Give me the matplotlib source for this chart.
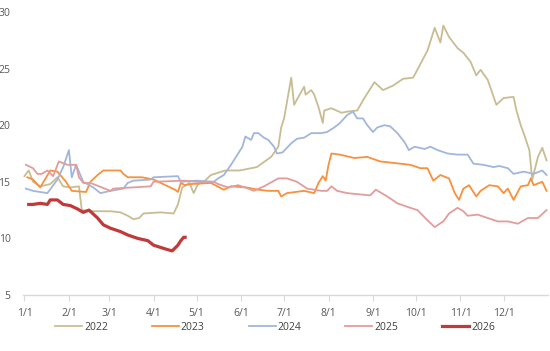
import matplotlib
matplotlib.use("Agg")
import matplotlib.pyplot as plt

plt.rcParams['font.family'] = ['Open Sans', 'DejaVu Sans']

month_ticks = [0, 31, 59, 90, 120, 151, 181, 212, 243, 273, 304, 334]
month_labels = ["1/1", "2/1", "3/1", "4/1", "5/1", "6/1", "7/1", "8/1", "9/1", "10/1", "11/1", "12/1"]

d2022 = [0, 3, 6, 11, 18, 23, 27, 32, 38, 40, 48, 60, 67, 72, 76, 80, 83, 95, 104, 107, 110, 115, 118, 121,
         125, 130, 140, 150, 162, 172, 177, 179, 181, 186, 188, 191, 195, 196, 200, 202, 205, 208, 209, 214,
         221, 225, 232, 237, 244, 250, 257, 264, 271, 281, 286, 290, 292, 296, 302, 306, 311, 315, 318, 323,
         329, 334, 341, 343, 346, 348, 352, 354, 358, 361, 364]
v2022 = [15.5, 16.0, 15.0, 14.6, 14.8, 15.4, 14.6, 14.5, 14.6, 12.5, 12.4, 12.4, 12.3, 12.0, 11.7, 11.8, 12.2, 12.3,
         12.2, 13.0, 14.5, 14.9, 14.0, 14.8, 15.0, 15.6, 16.0, 16.0, 16.3, 17.2, 18.1, 19.8, 20.6, 24.2, 21.8,
         22.5, 23.4, 22.7, 23.1, 22.7, 21.6, 20.2, 21.3, 21.5, 21.1, 21.2, 21.3, 22.4, 23.8, 23.1, 23.5, 24.1,
         24.2, 26.6, 28.6, 27.3, 28.8, 27.8, 26.8, 26.4, 25.6, 24.4, 24.9, 24.0, 21.8, 22.4, 22.5, 21.3, 20.0,
         19.3, 17.8, 15.2, 17.2, 18.0, 16.9]

d2023 = [2, 6, 11, 18, 23, 29, 33, 43, 46, 51, 55, 67, 69, 72, 82, 90, 100, 105, 107, 109, 112, 116, 130, 139,
         144, 155, 163, 170, 177, 179, 183, 195, 202, 205, 208, 210, 212, 214, 220, 230, 239, 248, 262, 269,
         276, 281, 285, 290, 296, 300, 303, 306, 310, 315, 318, 324, 330, 334, 337, 341, 346, 351, 353, 355,
         361, 364]
v2023 = [15.4, 15.2, 14.5, 16.0, 15.9, 15.0, 14.2, 14.1, 15.0, 15.6, 16.0, 16.0, 15.7, 15.4, 15.4, 15.2, 14.6,
         14.3, 14.1, 14.9, 14.7, 14.8, 14.9, 14.3, 14.6, 14.5, 14.3, 14.2, 14.2, 13.7, 14.0, 14.2, 14.0, 14.9,
         15.5, 15.1, 16.5, 17.5, 17.4, 17.1, 17.2, 16.8, 16.6, 16.5, 16.2, 16.2, 15.1, 15.6, 15.3, 14.0, 13.4,
         14.4, 14.7, 13.7, 14.2, 14.7, 14.6, 14.0, 14.4, 13.4, 14.6, 14.7, 15.3, 14.7, 15.0, 14.2]

d2024 = [1, 6, 16, 23, 27, 31, 33, 36, 41, 48, 53, 60, 69, 72, 76, 88, 90, 107, 109, 120, 132, 135, 139, 144,
         149, 152, 154, 158, 160, 163, 167, 170, 174, 176, 180, 186, 190, 195, 200, 207, 211, 216, 220, 225,
         229, 232, 236, 239, 243, 246, 251, 255, 260, 265, 268, 272, 279, 283, 288, 295, 302, 309, 313, 320,
         327, 331, 337, 341, 348, 355, 361, 364]
v2024 = [14.4, 14.2, 14.0, 15.2, 16.3, 17.8, 15.4, 16.5, 15.0, 14.5, 14.0, 14.2, 14.4, 14.9, 15.1, 15.2, 15.4,
         15.5, 15.0, 15.1, 15.0, 15.3, 15.6, 16.5, 17.5, 18.1, 19.0, 18.7, 19.3, 19.3, 18.9, 18.7, 18.1, 17.5,
         17.6, 18.4, 18.8, 18.9, 19.3, 19.3, 19.4, 19.8, 20.2, 20.9, 21.2, 20.6, 20.6, 20.0, 19.4, 19.8, 20.0,
         19.9, 19.3, 18.5, 17.8, 18.1, 17.9, 18.1, 17.8, 17.5, 17.4, 17.4, 16.6, 16.5, 16.3, 16.4, 16.2, 15.7,
         15.9, 15.7, 16.0, 15.6]

d2025 = [1, 6, 9, 12, 16, 20, 24, 30, 36, 38, 41, 46, 60, 62, 75, 88, 90, 111, 120, 132, 135, 142, 149, 156,
         160, 167, 177, 183, 190, 197, 207, 211, 214, 218, 225, 241, 245, 253, 260, 269, 274, 281, 286, 292,
         296, 302, 306, 309, 316, 323, 330, 337, 344, 351, 358, 364]
v2025 = [16.5, 16.2, 15.7, 15.7, 16.0, 15.5, 16.8, 16.5, 16.5, 15.4, 14.9, 14.9, 14.2, 14.4, 14.5, 14.6, 15.0,
         15.1, 15.0, 15.0, 14.8, 14.5, 14.7, 14.4, 14.2, 14.6, 15.3, 15.3, 15.0, 14.4, 14.2, 14.2, 14.6, 14.2,
         14.0, 13.8, 14.3, 13.7, 13.1, 12.7, 12.5, 11.6, 11.0, 11.5, 12.2, 12.7, 12.4, 12.0, 12.1, 11.8, 11.5,
         11.5, 11.3, 11.8, 11.8, 12.5]

d2026 = [3, 6, 11, 16, 18, 23, 27, 32, 37, 41, 45, 51, 55, 60, 67, 72, 79, 86, 90, 95, 100, 103, 107, 109, 111, 112]
v2026 = [13.0, 13.0, 13.1, 13.0, 13.4, 13.4, 13.0, 12.9, 12.6, 12.3, 12.5, 11.8, 11.2, 10.9, 10.6, 10.3, 10.0,
         9.8, 9.4, 9.2, 9.0, 8.9, 9.4, 9.8, 10.1, 10.1]

series = [
    ("2022", d2022, v2022, "#C8BD92", 1.3),
    ("2023", d2023, v2023, "#F7913D", 1.3),
    ("2024", d2024, v2024, "#A2B6DC", 1.3),
    ("2025", d2025, v2025, "#E39C9C", 1.3),
    ("2026", d2026, v2026, "#C0393B", 2.3),
]

fig = plt.figure(figsize=(5.5, 3.51), dpi=100)
ax = fig.add_axes([23 / 550, 56 / 351, 525 / 550, 283 / 351])

for name, d, v, c, lw in series:
    ax.plot(d, v, color=c, lw=lw, label=name, solid_joinstyle="round")

ax.set_xlim(-1, 365)
ax.set_ylim(5, 30)
ax.set_yticks([5, 10, 15, 20, 25, 30])
ax.set_xticks(month_ticks)
ax.set_xticklabels(month_labels)

for s in ["top", "right", "left"]:
    ax.spines[s].set_visible(False)
ax.spines["bottom"].set_color("#D9D9D9")
ax.spines["bottom"].set_linewidth(1.0)

ax.tick_params(axis="y", length=0, pad=9, labelsize=7.5, labelcolor="#595959")
ax.tick_params(axis="x", length=4, color="#D9D9D9", pad=5, labelsize=7.5, labelcolor="#595959")
for lab in ax.get_yticklabels():
    lab.set_horizontalalignment("right")

leg = fig.legend(loc="center", bbox_to_anchor=(0.5, 24 / 351), ncol=5, frameon=False,
                 fontsize=7.5, handlelength=2.6, columnspacing=4.2, handletextpad=0.2)
for t in leg.get_texts():
    t.set_color("#404040")

fig.savefig("out.png", dpi=100)
